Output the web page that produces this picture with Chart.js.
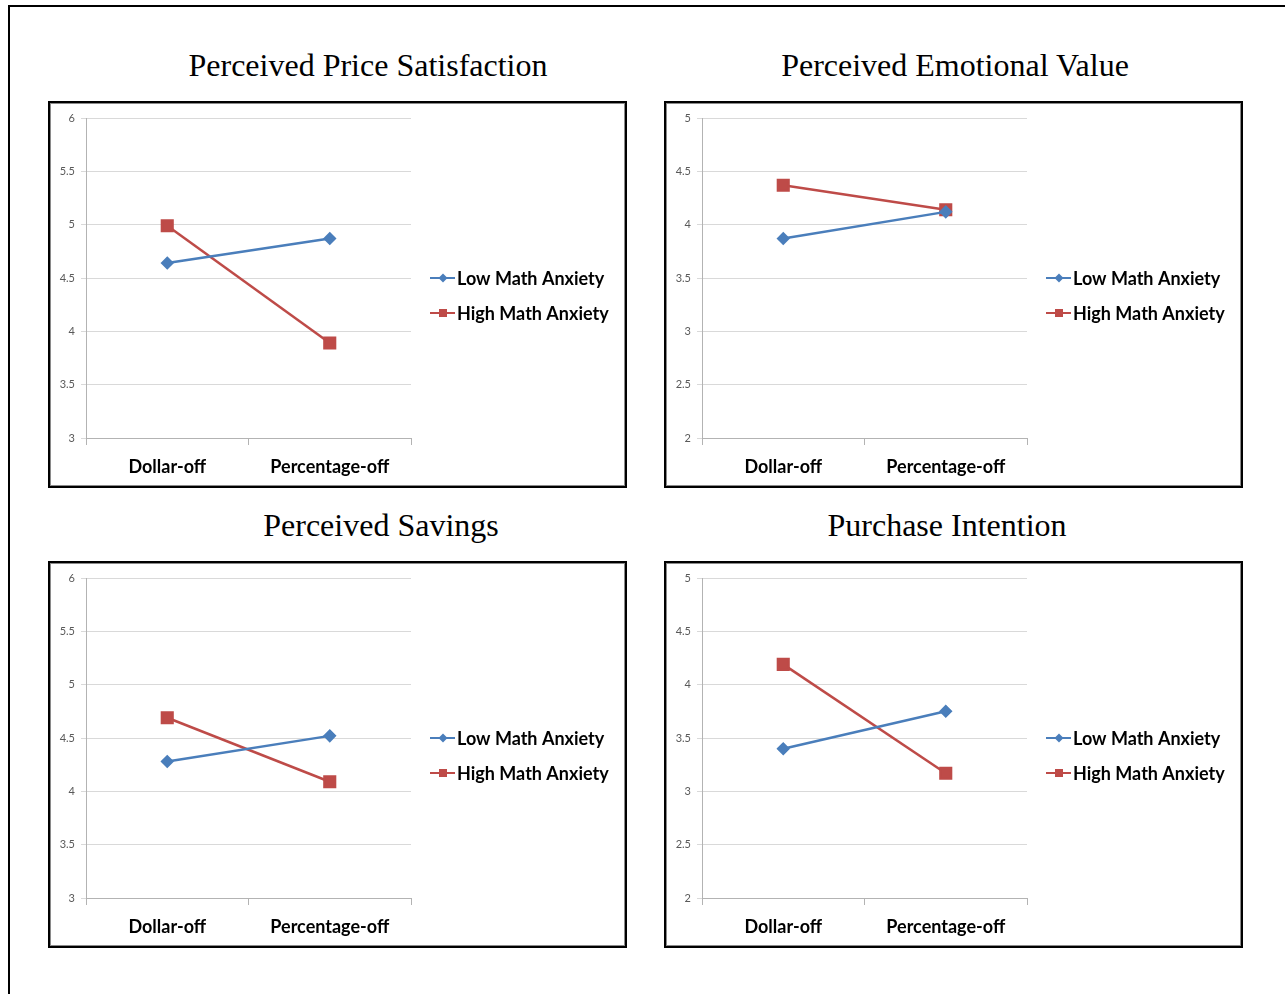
<!DOCTYPE html>
<html>
<head>
<meta charset="utf-8">
<title>Math anxiety and discount framing</title>
<script src="https://cdn.jsdelivr.net/npm/chart.js@4/dist/chart.umd.min.js"></script>
<style>
  html, body { margin: 0; padding: 0; background: #fff; }
  body { width: 1285px; height: 994px; position: relative; overflow: hidden; }
  .frame { position: absolute; left: 8px; top: 5px; width: 1400px; height: 1100px;
           border-top: 2px solid #000; border-left: 2px solid #000; }
  .title { position: absolute; width: 600px; margin-left: -300px; text-align: center;
           font-family: "Liberation Serif", "Times New Roman", serif; font-size: 32px;
           line-height: 34px; color: #000; white-space: nowrap; }
  .box { position: absolute; width: 579px; height: 387px; box-sizing: border-box;
         border: 2px solid #000; box-shadow: inset 0 0 0 1px #8a8a8a; background: #fff; }
  .box canvas { position: absolute; left: 0; top: 0; }
</style>
</head>
<body>
<div class="frame"></div>

<div class="title" style="left:368px; top:48px;">Perceived Price Satisfaction</div>
<div class="title" style="left:955px; top:48px;">Perceived Emotional Value</div>
<div class="title" style="left:381px; top:508px;">Perceived Savings</div>
<div class="title" style="left:947px; top:508px;">Purchase Intention</div>

<div class="box" style="left:48px; top:101px;"><canvas id="c1" width="575" height="383"></canvas></div>
<div class="box" style="left:664px; top:101px;"><canvas id="c2" width="575" height="383"></canvas></div>
<div class="box" style="left:48px; top:561px;"><canvas id="c3" width="575" height="383"></canvas></div>
<div class="box" style="left:664px; top:561px;"><canvas id="c4" width="575" height="383"></canvas></div>

<script>
// Discount framing conditions and anxiety groups
const categories = ['Dollar-off', 'Percentage-off'];
const seriesNames = ['Low Math Anxiety', 'High Math Anxiety'];

// Mean ratings per condition
const priceSatLow = [4.64, 4.87];
const priceSatHigh = [4.99, 3.89];
const emotionalLow = [3.87, 4.12];
const emotionalHigh = [4.37, 4.14];
const savingsLow = [4.28, 4.52];
const savingsHigh = [4.69, 4.09];
const intentionLow = [3.40, 3.75];
const intentionHigh = [4.19, 3.17];

// Value axis ranges [min, max, step]
const rangeSixPoint = [3, 6, 0.5];
const rangeFivePoint = [2, 5, 0.5];

const blue = '#4A7EBB';
const red = '#BE4B48';
const gridGrey = '#d9d9d9';
const axisGrey = '#b3b3b3';
const labelFont = 'Lato, "Liberation Sans", sans-serif';

// Excel-style legend: short line with the series marker, then the label
const sideLegend = {
  id: 'sideLegend',
  afterDraw(chart) {
    const ctx = chart.ctx;
    const area = chart.chartArea;
    const x0 = area.right + 19;
    const yMid = (area.top + area.bottom) / 2;
    chart.data.datasets.forEach((ds, i) => {
      const y = yMid + i * 35;
      ctx.save();
      ctx.strokeStyle = ds.borderColor;
      ctx.lineWidth = 2;
      ctx.beginPath();
      ctx.moveTo(x0, y);
      ctx.lineTo(x0 + 25, y);
      ctx.stroke();
      ctx.fillStyle = ds.borderColor;
      const cx = x0 + 13;
      if (ds.pointStyle === 'rect') {
        ctx.fillRect(cx - 4, y - 4, 8, 8);
      } else {
        ctx.beginPath();
        ctx.moveTo(cx, y - 4.5);
        ctx.lineTo(cx + 4.5, y);
        ctx.lineTo(cx, y + 4.5);
        ctx.lineTo(cx - 4.5, y);
        ctx.closePath();
        ctx.fill();
      }
      ctx.fillStyle = '#000';
      ctx.font = 'bold 18px ' + labelFont;
      ctx.textBaseline = 'middle';
      ctx.textAlign = 'left';
      ctx.fillText(ds.label, x0 + 27, y + 1);
      ctx.restore();
    });
  }
};

function makeChart(id, lowVals, highVals, range) {
  return new Chart(document.getElementById(id), {
    type: 'line',
    data: {
      labels: categories,
      datasets: [
        { label: seriesNames[0], data: lowVals, borderColor: blue, backgroundColor: blue,
          borderWidth: 2.5, pointStyle: 'rectRot', pointRadius: 5, pointHoverRadius: 5 },
        { label: seriesNames[1], data: highVals, borderColor: red, backgroundColor: red,
          borderWidth: 2.5, pointStyle: 'rect', pointRadius: 7.5, pointHoverRadius: 7.5 }
      ]
    },
    options: {
      responsive: false,
      devicePixelRatio: 1,
      animation: false,
      events: [],
      layout: { padding: { left: 0, top: 15, right: 214, bottom: 0 } },
      plugins: { legend: { display: false }, tooltip: { enabled: false }, title: { display: false } },
      scales: {
        x: {
          type: 'category',
          offset: true,
          grid: { offset: true, drawOnChartArea: false, drawTicks: true, tickLength: 7, color: axisGrey },
          border: { color: axisGrey, width: 1 },
          ticks: { color: '#000', padding: 11, maxRotation: 0,
                   font: { family: labelFont, size: 18, weight: 'bold' } },
          afterFit(scale) { scale.height = 48; }
        },
        y: {
          min: range[0],
          max: range[1],
          grid: { color: gridGrey, drawTicks: true, tickLength: 5, lineWidth: 1 },
          border: { color: axisGrey, width: 1 },
          ticks: { stepSize: range[2], color: '#595959', padding: 6,
                   font: { family: labelFont, size: 11 },
                   callback: (v) => String(v) },
          afterFit(scale) { scale.width = 36; }
        }
      }
    },
    plugins: [sideLegend]
  });
}

makeChart('c1', priceSatLow, priceSatHigh, rangeSixPoint);
makeChart('c2', emotionalLow, emotionalHigh, rangeFivePoint);
makeChart('c3', savingsLow, savingsHigh, rangeSixPoint);
makeChart('c4', intentionLow, intentionHigh, rangeFivePoint);
</script>
</body>
</html>
